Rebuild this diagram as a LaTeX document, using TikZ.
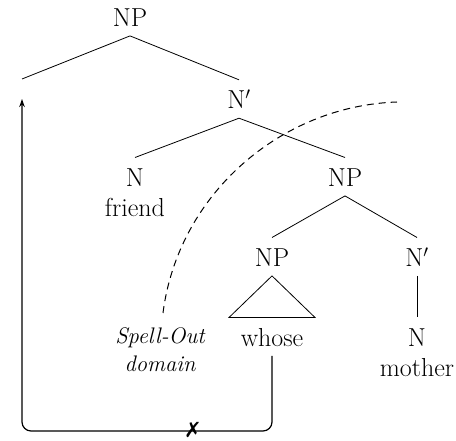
\documentclass[tikz,border=0pt]{standalone}
\usepackage{fontspec}
\newfontfamily\marksymfont{DejaVu Sans}
\usetikzlibrary{arrows.meta,calc}

\tikzset{
  cat/.style={anchor=base, inner sep=0pt, text height=29pt, text depth=9pt,
              font=\fontsize{26}{30}\selectfont},
  word/.style={cat},
  note/.style={anchor=base, inner sep=0pt, font=\fontsize{22.5}{26}\selectfont\itshape},
  branch/.style={line width=0.8pt},
  spellout/.style={line width=1pt, dash pattern=on 7pt off 5pt},
  movement/.style={line width=1.2pt, rounded corners=9pt,
                   -{Stealth[length=8pt,width=5.5pt]}},
}

\begin{document}
\begin{tikzpicture}[x=1pt,y=-1pt]
  \useasboundingbox (0,0) rectangle (456,441);

  % tree nodes (placed at their baselines)
  \node[cat]  (np0)  at (130,26.7)  {NP};
  \node[cat]  (nb1)  at (239,109)   {N$'$};
  \node[cat]  (n1)   at (135,186.7) {N};
  \node[word] (fr)   at (135,216.7) {friend};
  \node[cat]  (np1)  at (345,186.7) {NP};
  \node[cat]  (np2)  at (272,266.7) {NP};
  \node[word] (who)  at (272,346.7) {whose};
  \node[cat]  (nb2)  at (417,266.7) {N$'$};
  \node[cat]  (n2)   at (417,346.7) {N};
  \node[word] (mo)   at (417,376.7) {mother};

  \node[note] (so1)  at (160,344) {Spell-Out};
  \node[note] (so2)  at (160,372) {domain};

  % empty left daughter of the top NP
  \coordinate (gap) at (22,79);
  \coordinate (tip) at (22,99);

  % branches
  \draw[branch] (np0.south) -- (gap);
  \draw[branch] (np0.south) -- (nb1.north);
  \draw[branch] (nb1.south) -- (n1.north);
  \draw[branch] (nb1.south) -- (np1.north);
  \draw[branch] (np1.south) -- (np2.north);
  \draw[branch] (np1.south) -- (nb2.north);
  \draw[branch] (nb2.south) -- (n2.north);
  \draw[branch] (np2.south) -- ($(who.north)+(-43,0)$) -- ($(who.north)+(43,0)$) -- cycle;

  % boundary of the Spell-Out domain
  \coordinate (sa) at (163,313);
  \coordinate (sb) at (397,102);
  \draw[spellout] (sa) .. controls (178,195) and (280,106) .. (sb);

  % blocked movement path
  \draw[movement] (who.south) -- (272,431) -- (22,431) -- (tip);
  \node[font=\marksymfont\fontsize{21}{23}\selectfont, inner sep=0pt] (blk) at (193,429.5) {✗};
\end{tikzpicture}
\end{document}
